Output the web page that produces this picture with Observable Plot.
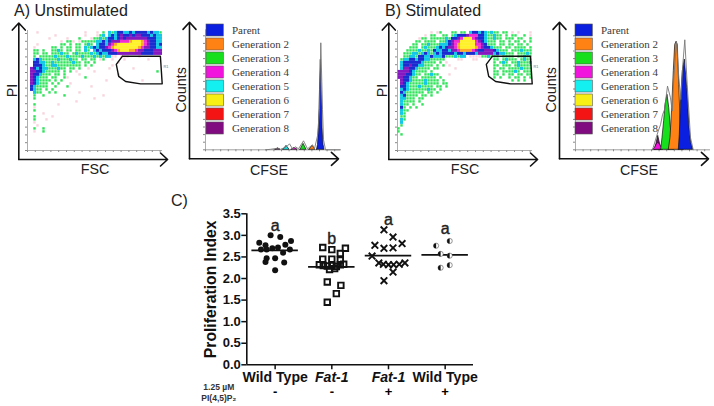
<!DOCTYPE html>
<html>
<head>
<meta charset="utf-8">
<script src="https://cdn.jsdelivr.net/npm/d3@7"></script>
<script src="https://cdn.jsdelivr.net/npm/@observablehq/plot@0.6"></script>
<style>
html,body{margin:0;padding:0;background:#fff;width:714px;height:406px;overflow:hidden}
#chart{position:relative;width:714px;height:406px;font-family:"Liberation Sans",Arial,sans-serif}
#chart svg{position:absolute;background:transparent;overflow:visible;max-width:none}
.density g[aria-label="rect"]{filter:blur(.5px)}
.ttl{position:absolute;font-size:16px;line-height:18px;color:#222;white-space:nowrap}
</style>
</head>
<body>
<div id="chart"></div>
<script>
// Flow-cytometry density, read cell by cell: , sparse  g green  c cyan  b blue  m purple  p magenta  o orange  y yellow
const densityA = [
"...,...............,...,.g.cgcbbccbcbbbbcbccg",
".........,.........,...,gc.cbcbmbbmbmmbbbcbcc",
".......,.....,...g...,ggcgcbbcbmbmmmmmmmbbbcc",
"...........,.gg,.,gggggccbcbmmmpppoyyyopmbbcc",
"...,.......gg.g.gg.gcg.cbbcmpoyyyyyyyyopmbbcb",
"..,.....gg.g.gg.gg.cgcbcbbmpoyyyyyyyyopmmbbcc",
"..gg.g..ggcg.gg.gg.cg.cbcbbbmpoyyyoopmmbbbmmm",
"..gg.gg.gggcgg.gcggggcgcbccbbbmmmmmmmmbbbbmmm",
"..g.gggggcgggcggggcgggcgcgcc,,.,,,...,.......",
"..cbcgggggcgggcgg.gg.gg.,g..,...,.......,....",
"..bbccggcggggggcgg.gg.g.......,..............",
"..bbbcggccgggggggg.g.g......,................",
".mbcbccgggcgg.gg.g..,......,.......,.........",
".mmbbcggggg.g.g.,.....,....................g.",
".mbbcggg.gg.g....,............,..............",
".mbcggg.gg..g,.....g.........................",
".mbcgggg.g.g..............,...........,.......",
".mbcggg.g.g...,..............................",
".bcgggg..g...g.......,.......................",
".bcgg.g.g....................................",
"..cgg..g.g.......,...........................",
"..g..g......g............,...................",
"..g...................,......................",
"................,............................",
"..g.......,..................................",
"..,..........................................",
"..g..........................................",
".....,.......................................",
"..g.....,....................................",
"..g...,......................................",
"..,..........................................",
"...,.........................................",
"..g..g.......................................",
"..,..g.......................................",
];
const densityB = [
"...........,.,g...gg.gg.cbbcbcgcgg.gg.,.,...,.",
".........,.gg..gg.gcbbbmpppbbcggcgg.g.gg..g.,.",
".......,gg.gggggcgbbmpyyypmbbcggcgg.ggg.gg..g",
"......gg.gggg.ggcbmppyyyyypmbcggg.gg.g.gg.g.g",
".....gg.ggcgggcccbmpoyyyyyppmbggg.gg.gg.gg.g.",
"....ggg.gcgggcbcbmmpoyyyyyopmbbcggg.gg.gggg.g",
"...ggggcggcgbccbbcmmpoooopmbbmmmbcggg.gggcggg",
"..gggccgcbcgcbcbbbbcbbcbbbcmmmmmcbccggg.gggcg",
"..ggccgbbccbcccbgggcgcc.,,,,ggcggg.gggg.ggcgg",
".gccbbcbbccggggg....,,...,,.....gg.gcggg.gcgg",
".cbbbbbbcgggg.g.,...............g.gcg.ggcgggc",
".cbbmbbccggg.g.g.,..............gg.ggg.gcgggg",
".cmmbbcgggg.gg.....,............g.gg.ggggcggg",
"mmmmbcgggg.g....................gg.ggggcg.ggg",
"mmmbbcgg.ggcgg...,..............gg.g.gg.gg.gg",
"mmbbcgg.ggggg.g.................g.g..g.gg.g.g",
".mbbcggggcgggg.g......................g.g.g...",
".mbcgggggcgggg.gg",
".bbcgggcgggg.gg.g",
".cbcggggggcgg.g",
".bcgggggg.gg.g",
".cbgggg.gg.g",
".ccggg.gg",
".cgggg.g",
".cgg.g..g",
".bg.g.g",
".cgg",
".cg",
".gg",
".cg",
".c",
".g",
"g",
"g",
".g",
];
const densityLevels = [",","g","c","b","m","p","o","y"];
const densityColors = ["#f8d4de","#2fe35a","#12c8e6","#1a2bd0","#8518c0","#f02cd2","#ffa828","#fff12a"];
const sparseLevels = [",","g"];
const fscTicks = d3.range(0, 46, 2.6);
const piTicks = d3.range(0, 41, 2.6);
const gate = [[31.6,31.4],[44.3,31.4],[44.9,22.2],[37.7,22.2],[32.7,23],[30.4,24.7],[29.6,28.7],[31.6,31.4]];

const generations = ["Parent","Generation 2","Generation 3","Generation 4","Generation 5","Generation 6","Generation 7","Generation 8"];
const genColors = ["#0a1fe0","#ff8214","#16e01e","#f214dc","#14f0f0","#f8f014","#f41414","#800a80"];
const cfseTicks = d3.range(0, 136, 7.6);
const countTicks = d3.range(0, 121, 7.6);

// Histogram A: [CFSE, counts]
const aRaw = [[60,0],[65,.5],[72,1.5],[75,.5],[81,3],[84,6],[87,1],[90,3],[93,1],[98,9],[102,1],[107,5],[109,1],[112,14],[114,40],[115.3,107],[117,40],[118,10],[120,0],[135,0]];
const aGen8 = [[70,0],[72.5,1.5],[75,0]];
const aGen5 = [[78,0],[81,4],[84,0]];
const aGen4 = [[86,0],[89,2],[92,0]];
const aGen3 = [[95,0],[98,6],[101,0]];
const aGen2 = [[104,0],[107,4],[110,0]];
const aParent = [[111.5,0],[112.5,5],[113.5,22],[114.5,60],[115.3,90],[116.1,60],[117,22],[118,5],[119,0]];
// Histogram B
const bRaw = [[77,0],[82.7,18.7],[85,25],[87,35],[89,40],[92,63.7],[95,52],[96.7,38.7],[98.3,72],[101,108.7],[103.3,72],[105.3,50.3],[107.3,85],[109.3,110],[111.7,65],[115,12],[117.7,0]];
const bGen8 = [[79.5,0],[81,6],[82.7,14],[84.5,6],[86,0]];
const bGen4 = [[77.7,0],[79.5,2],[81.5,6],[82.7,7],[84,6],[85.7,3],[87.7,0]];
const bGen3 = [[85.7,0],[87,12],[88.7,29],[90,45],[92,55],[93.7,42],[95.3,22],[97,7],[99,0]];
const bGen2 = [[93.3,0],[95,12],[96.7,42],[98.3,78.7],[99.7,105],[101,108],[102.3,105],[103.7,65],[105,32],[106.7,9],[108.3,0]];
const bParent = [[103.3,0],[104.3,15],[105.7,52],[107.3,78.7],[109.3,90.3],[111.7,62],[114,22],[115.7,7],[117.7,0]];

// Proliferation index
const groups = [1,2,3,4];
const groupNames = ["Wild Type","Fat-1","Fat-1","Wild Type"];
const stimLabels = ["-","-","+","+"];
const medians = [2.65,2.27,2.53,2.55];
const letters = [[1,3.21,"a"],[2,2.92,"b"],[3,3.36,"a"],[4,3.14,"a"]];
const wtMinus = [[-.08,3.00],[.09,2.96],[.28,2.87],[-.28,2.83],[-.17,2.77],[.18,2.78],[-.05,2.70],[.05,2.72],[.26,2.67],[-.25,2.67],[-.15,2.67],[.14,2.60],[-.15,2.47],[-.17,2.38],[0,2.47],[.16,2.37],[0,2.19]];
const fatMinus = [[-.16,2.72],[0,2.67],[.15,2.58],[.24,2.70],[-.16,2.45],[0,2.45],[.15,2.43],[-.22,2.32],[-.15,2.30],[-.08,2.29],[0,2.30],[.08,2.28],[.15,2.32],[.21,2.33],[-.04,2.21],[.05,2.23],[-.08,1.92],[.16,1.84],[.08,1.65],[-.08,1.45]];
const fatPlus = [[-.08,3.13],[.08,2.96],[-.24,2.77],[-.08,2.70],[.08,2.71],[.24,2.81],[-.29,2.52],[-.17,2.36],[-.09,2.33],[0,2.32],[.09,2.32],[.19,2.33],[.29,2.36],[.08,2.15],[-.08,1.95]];
const wtPlus = [[-.16,2.76],[.08,2.87],[-.08,2.57],[.08,2.53],[-.08,2.25],[.08,2.31]];

const chart = document.getElementById("chart");
function place(svg,left,top,cls){svg.style.left=left+"px";svg.style.top=top+"px";if(cls)svg.classList.add(cls);chart.appendChild(svg);return svg;}
function title(text,left,top){const d=document.createElement("div");d.className="ttl";d.textContent=text;d.style.left=left+"px";d.style.top=top+"px";chart.appendChild(d);}

function densityPanel(rows,left){
  const cells = rows.flatMap((row,k)=>Array.from(row).map((ch,i)=>({ch,i,r:39.7-k})).filter(d=>d.ch!=="."));
  const sparse = cells.filter(d=>sparseLevels.includes(d.ch)), dense = cells.filter(d=>!sparseLevels.includes(d.ch));
  return place(Plot.plot({
    width:180,height:185,marginLeft:27,marginRight:18,marginTop:30,marginBottom:35,
    style:{background:"transparent",fontFamily:"'Liberation Sans',Arial,sans-serif",overflow:"visible"},
    x:{domain:[0,45]},y:{domain:[0,40]},color:{domain:densityLevels,range:densityColors},
    marks:[
      Plot.rect(sparse,{x1:"i",x2:d=>d.i+1,y1:"r",y2:d=>d.r-1,fill:"ch",inset:.3}),
      Plot.rect(dense,{x1:"i",x2:d=>d.i+1,y1:"r",y2:d=>d.r-1,fill:"ch"}),
      Plot.axisX(fscTicks,{tickSize:2,stroke:"#888",tickFormat:()=>"",label:"FSC",labelAnchor:"center",labelArrow:false,labelOffset:23,fontSize:14.3,color:"#222"}),
      Plot.axisY(piTicks,{tickSize:2,stroke:"#888",tickFormat:()=>"",label:"PI",labelAnchor:"center",labelArrow:false,labelOffset:21,fontSize:14.3,color:"#222"}),
      Plot.ruleX([0],{stroke:"#999",strokeWidth:.8}),
      Plot.ruleY([0],{stroke:"#999",strokeWidth:.8}),
      Plot.line(gate,{x:d=>d[0],y:d=>d[1],stroke:"#111",strokeWidth:1.4}),
      Plot.text(["R1"],{x:45.3,y:28,fontSize:4,fill:"#777",textAnchor:"start"}),
      Plot.arrow([[-2.9,-3,46.7,-3],[-2.9,-3,-2.9,42.5]],{x1:d=>d[0],y1:d=>d[1],x2:d=>d[2],y2:d=>d[3],stroke:"#111",strokeWidth:1.6,headLength:9,headAngle:85})
    ]}),left,0,"density");
}

function histPanel(series,raw,left){
  return place(Plot.plot({
    width:170,height:185,marginLeft:35,marginRight:0,marginTop:29.3,marginBottom:35.7,
    style:{background:"transparent",fontFamily:"'Liberation Sans',Arial,sans-serif",overflow:"visible"},
    x:{domain:[0,135]},y:{domain:[0,120]},color:{domain:generations,range:genColors},
    marks:[
      Plot.axisX(cfseTicks,{tickSize:2,stroke:"#888",tickFormat:()=>"",label:null}),
      Plot.text(["CFSE"],{frameAnchor:"bottom",lineAnchor:"bottom",dx:-4,dy:25,fontSize:14.3,fill:"#222"}),
      Plot.axisY(countTicks,{tickSize:2,stroke:"#888",tickFormat:()=>"",label:"Counts",labelAnchor:"center",labelArrow:false,labelOffset:30,fontSize:14.3,color:"#222"}),
      Plot.ruleX([0],{stroke:"#999",strokeWidth:.8}),
      Plot.ruleY([0],{stroke:"#888",strokeWidth:.8}),
      ...series.map(([pts,name])=>Plot.areaY(pts,{x:d=>d[0],y:d=>d[1],fill:()=>name,stroke:"#111",strokeWidth:.7})),
      Plot.line(raw,{x:d=>d[0],y:d=>d[1],stroke:"#777",strokeWidth:.9}),
      Plot.arrow([[-16,-9,133,-9],[-16,-9,-16,127.5]],{x1:d=>d[0],y1:d=>d[1],x2:d=>d[2],y2:d=>d[3],stroke:"#111",strokeWidth:1.6,headLength:9,headAngle:85})
    ]}),left,0);
}

function legendPanel(left){
  return place(Plot.plot({
    width:100,height:114.7,margin:0,
    style:{background:"transparent",overflow:"visible"},
    x:{domain:[0,100],axis:null},y:{domain:generations,axis:null,padding:.16},color:{domain:generations,range:genColors},
    marks:[
      Plot.barX(generations,{x1:()=>0,x2:()=>17.3,y:d=>d,fill:d=>d,stroke:"#555",strokeWidth:.6}),
      Plot.text(generations,{x:()=>25.5,y:d=>d,text:d=>d,textAnchor:"start",fontFamily:"'Liberation Serif',serif",fontSize:11,fill:"#3a3a3a"})
    ]}),left,21.8);
}

function half(){return {draw(ctx,size){const r=Math.sqrt(size/Math.PI);ctx.moveTo(0,-r);ctx.arc(0,0,r,-Math.PI/2,Math.PI/2,true);ctx.closePath();}};}

densityPanel(densityA,0);
histPanel([[aGen8,"Generation 8"],[aGen5,"Generation 5"],[aGen4,"Generation 4"],[aGen3,"Generation 3"],[aGen2,"Generation 2"],[aParent,"Parent"]],aRaw,170);
legendPanel(205.7);
densityPanel(densityB,370);
histPanel([[bGen8,"Generation 8"],[bGen4,"Generation 4"],[bGen3,"Generation 3"],[bGen2,"Generation 2"],[bParent,"Parent"]],bRaw,540);
legendPanel(574.5);
title("A) Unstimulated",14,2.4);
title("B) Stimulated",385,2.4);
title("C)",171,191.7);

const pos=(arr,g)=>arr.map(d=>({x:g+d[0],y:d[1]}));
const nameOf=g=>groupNames[g-1];
const axisFont={fontSize:14.1,fontWeight:"bold",color:"#111"};
place(Plot.plot({
  width:345,height:221,marginLeft:81.3,marginRight:37,marginTop:28.3,marginBottom:41.7,
  style:{background:"transparent",fontFamily:"'Liberation Sans',Arial,sans-serif",overflow:"visible"},
  x:{domain:[.5,4.5]},y:{domain:[0,3.5]},
  marks:[
    Plot.ruleX([.5],{strokeWidth:1.6,stroke:"#111"}),
    Plot.ruleY([0],{strokeWidth:1.6,stroke:"#111"}),
    Plot.axisY(d3.range(0,3.6,.5),{tickSize:5,strokeWidth:1.5,stroke:"#111",tickPadding:1,tickFormat:d3.format(".1f"),fontSize:13,fontWeight:"bold",color:"#111",label:null}),
    Plot.axisY({ticks:[],fontSize:15.7,fontWeight:"bold",color:"#111",label:"Proliferation Index",labelAnchor:"center",labelArrow:false,labelOffset:42}),
    Plot.axisX([1,4],{...axisFont,tickSize:5,strokeWidth:1.5,stroke:"#111",tickPadding:2,tickFormat:nameOf,label:null}),
    Plot.axisX([2,3],{...axisFont,fontStyle:"italic",tickSize:5,strokeWidth:1.5,stroke:"#111",tickPadding:2,tickFormat:nameOf,label:null}),
    Plot.axisX(groups,{fontSize:13,fontWeight:"bold",tickSize:0,tickPadding:22,tickFormat:g=>stimLabels[g-1],label:null}),
    Plot.ruleY(medians,{y:d=>d,x1:(d,i)=>groups[i]-.41,x2:(d,i)=>groups[i]+.41,stroke:"#111",strokeWidth:1.8}),
    Plot.dot(pos(wtMinus,1),{x:"x",y:"y",r:3,fill:"#111"}),
    Plot.dot(pos(fatMinus,2),{x:"x",y:"y",r:3.1,symbol:"square",stroke:"#111",strokeWidth:1.9,fill:"none"}),
    Plot.dot(pos(fatPlus,3),{x:"x",y:"y",r:3.1,symbol:"times",stroke:"#111",strokeWidth:1.9}),
    Plot.dot(pos(wtPlus,4),{x:"x",y:"y",r:2.6,fill:"white",stroke:"#333",strokeWidth:.5}),
    Plot.dot(pos(wtPlus,4),{x:"x",y:"y",r:2.6,symbol:half(),fill:"#111"}),
    Plot.text(letters,{x:d=>d[0],y:d=>d[1],text:d=>d[2],fontSize:16,fill:"#222",stroke:"#222",strokeWidth:.4}),
    Plot.text(["1.25 µM","PI(4,5)P₂"],{x:()=>.5,y:(d,i)=>[-.53,-.77][i],dx:-28,text:d=>d,fontSize:8.5,fontWeight:"bold",fill:"#333"})
  ]}),165,185);
</script>
</body>
</html>
